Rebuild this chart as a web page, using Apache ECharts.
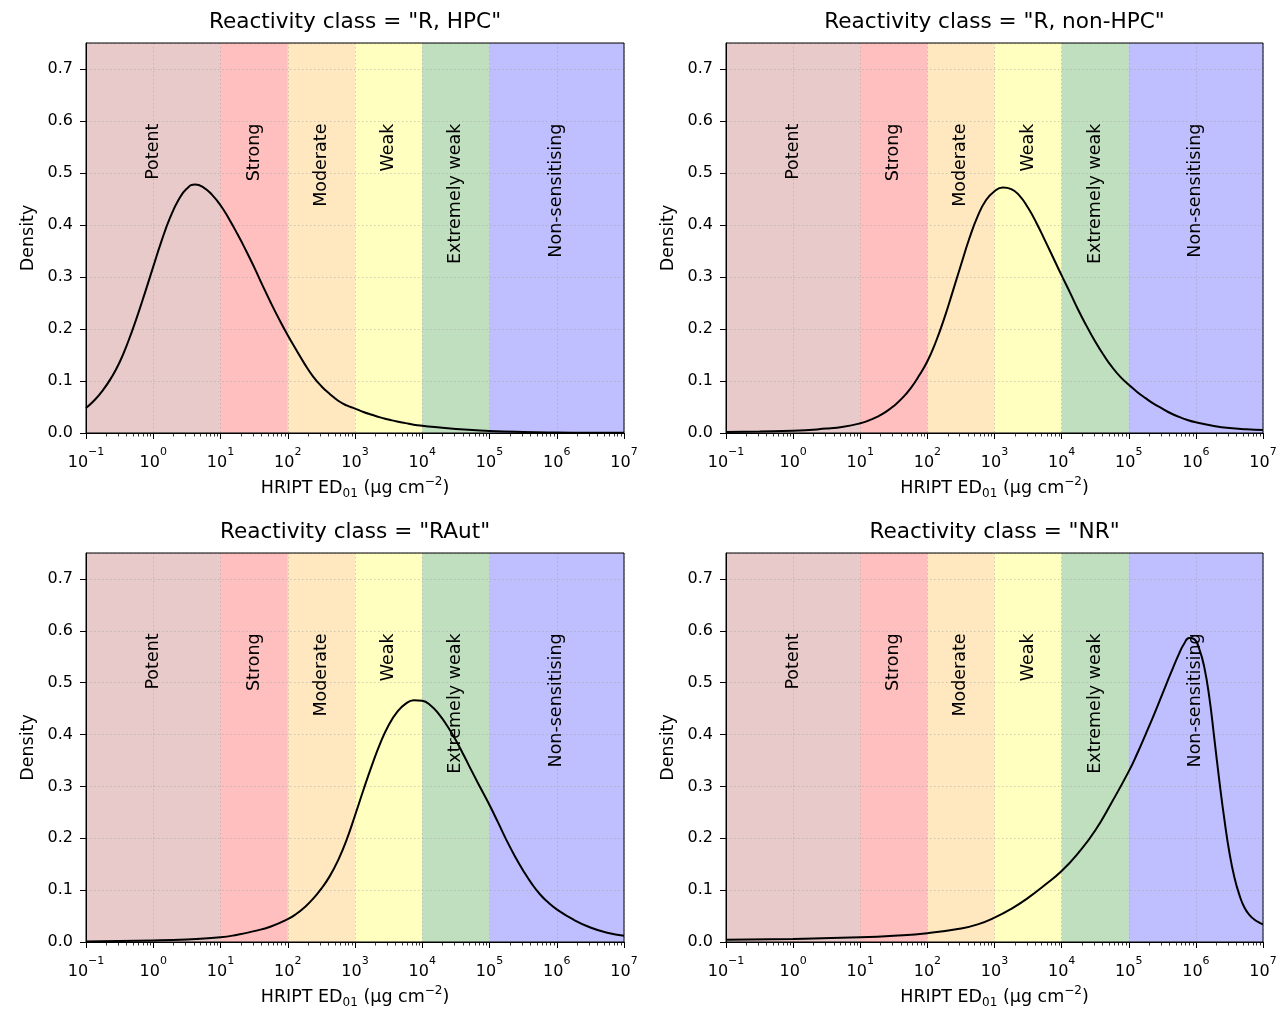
<!DOCTYPE html>
<html>
<head>
<meta charset="utf-8">
<script src="https://cdn.jsdelivr.net/npm/echarts@6/dist/echarts.min.js"></script>
<style>
html,body{margin:0;padding:0;background:#ffffff;}
#chart{width:1281px;height:1010px;}
</style>
</head>
<body>
<div id="chart"></div>
<script>
// ---------------- data ----------------
const panelTitles = ['Reactivity class = "R, HPC"', 'Reactivity class = "R, non-HPC"', 'Reactivity class = "RAut"', 'Reactivity class = "NR"'];
const classNames = ['Potent', 'Strong', 'Moderate', 'Weak', 'Extremely weak', 'Non-sensitising'];
const classLower = [0.1, 10, 100, 1000, 10000, 100000];
const classUpper = [10, 100, 1000, 10000, 100000, 10000000];
const classLabelX = [1, 31.6, 316, 3162, 31623, 1000000];
const classLabelY = [0.595, 0.595, 0.595, 0.595, 0.595, 0.595];
const yTickValues = [0.0, 0.1, 0.2, 0.3, 0.4, 0.5, 0.6, 0.7];
const xMinorTickMantissas = [2, 3, 4, 5, 6, 7, 8, 9];
const xDecades = [0.1, 1, 10, 100, 1000, 10000, 100000, 1000000];

// curve samples: log10(ED01) and density
const logX_RHPC = [-1.0, -0.875, -0.75, -0.625, -0.5, -0.375, -0.25, -0.125, 0.0, 0.125, 0.25, 0.375, 0.5, 0.625, 0.75, 0.875, 1.0, 1.125, 1.25, 1.375, 1.5, 1.625, 1.75, 1.875, 2.0, 2.125, 2.25, 2.375, 2.5, 2.625, 2.75, 2.875, 3.0, 3.125, 3.25, 3.375, 3.5, 3.625, 3.75, 3.875, 4.0, 4.5, 5.0, 5.5, 6.0, 6.5, 7.0];
const dens_RHPC = [0.048, 0.063, 0.082, 0.106, 0.136, 0.175, 0.220, 0.269, 0.320, 0.370, 0.414, 0.448, 0.470, 0.478, 0.472, 0.458, 0.438, 0.412, 0.383, 0.352, 0.319, 0.284, 0.250, 0.218, 0.188, 0.160, 0.133, 0.109, 0.090, 0.075, 0.062, 0.053, 0.047, 0.0405, 0.035, 0.030, 0.026, 0.022, 0.019, 0.016, 0.014, 0.0075, 0.004, 0.002, 0.001, 0.0005, 0.0003];

const logX_RnonHPC = [-1.0, -0.5, 0.0, 0.5, 0.75, 1.0, 1.125, 1.25, 1.375, 1.5, 1.625, 1.75, 1.875, 2.0, 2.125, 2.25, 2.375, 2.5, 2.625, 2.75, 2.875, 3.0, 3.125, 3.25, 3.375, 3.5, 3.625, 3.75, 3.875, 4.0, 4.125, 4.25, 4.375, 4.5, 4.625, 4.75, 4.875, 5.0, 5.125, 5.25, 5.375, 5.5, 5.625, 5.75, 5.875, 6.0, 6.25, 6.5, 6.75, 7.0];
const dens_RnonHPC = [0.002, 0.003, 0.0042, 0.0085, 0.012, 0.0186, 0.024, 0.031, 0.040, 0.052, 0.067, 0.086, 0.110, 0.138, 0.175, 0.220, 0.271, 0.323, 0.374, 0.417, 0.448, 0.465, 0.472, 0.469, 0.456, 0.433, 0.404, 0.371, 0.337, 0.303, 0.270, 0.236, 0.205, 0.176, 0.150, 0.127, 0.108, 0.093, 0.079, 0.067, 0.056, 0.047, 0.038, 0.031, 0.025, 0.0205, 0.014, 0.0095, 0.0072, 0.0058];

const logX_RAut = [-1.0, 0.0, 0.5, 1.0, 1.25, 1.5, 1.75, 2.0, 2.125, 2.25, 2.375, 2.5, 2.625, 2.75, 2.875, 3.0, 3.125, 3.25, 3.375, 3.5, 3.625, 3.75, 3.875, 4.0, 4.125, 4.25, 4.375, 4.5, 4.625, 4.75, 4.875, 5.0, 5.125, 5.25, 5.375, 5.5, 5.625, 5.75, 5.875, 6.0, 6.25, 6.5, 6.75, 7.0];
const dens_RAut = [0.001, 0.003, 0.005, 0.009, 0.014, 0.021, 0.030, 0.044, 0.054, 0.067, 0.083, 0.103, 0.127, 0.158, 0.197, 0.244, 0.293, 0.340, 0.383, 0.418, 0.443, 0.459, 0.466, 0.465, 0.456, 0.439, 0.416, 0.389, 0.358, 0.326, 0.295, 0.264, 0.231, 0.197, 0.166, 0.138, 0.113, 0.092, 0.076, 0.063, 0.043, 0.028, 0.018, 0.012];

const logX_NR = [-1.0, 0.0, 1.0, 1.5, 2.0, 2.5, 2.75, 3.0, 3.25, 3.5, 3.75, 4.0, 4.25, 4.5, 4.75, 5.0, 5.125, 5.25, 5.375, 5.5, 5.625, 5.75, 5.825, 5.9, 5.975, 6.05, 6.125, 6.2, 6.275, 6.35, 6.425, 6.5, 6.575, 6.65, 6.725, 6.8, 6.875, 6.95, 7.0];
const dens_NR = [0.0045, 0.006, 0.009, 0.012, 0.017, 0.026, 0.034, 0.047, 0.064, 0.085, 0.110, 0.137, 0.172, 0.215, 0.270, 0.329, 0.363, 0.400, 0.438, 0.478, 0.518, 0.556, 0.575, 0.586, 0.584, 0.565, 0.530, 0.472, 0.392, 0.310, 0.236, 0.172, 0.124, 0.090, 0.066, 0.052, 0.043, 0.037, 0.034];

const panelLogX = [logX_RHPC, logX_RnonHPC, logX_RAut, logX_NR];
const panelDens = [dens_RHPC, dens_RnonHPC, dens_RAut, dens_NR];

// ---------------- styling ----------------
const FONT = 'DejaVu Sans';
const bandColors = ['rgba(165,42,42,0.25)', 'rgba(255,0,0,0.25)', 'rgba(255,165,0,0.25)', 'rgba(255,255,0,0.25)', 'rgba(0,128,0,0.25)', 'rgba(0,0,255,0.25)'];
const grids = [
  {left: 86, top: 43, width: 538, height: 390},
  {left: 726, top: 43, width: 537, height: 390},
  {left: 86, top: 553, width: 538, height: 390},
  {left: 726, top: 553, width: 537, height: 390}
];
const gridLineStyle = {type: [1.5, 2.5], color: 'rgba(150,150,150,0.45)', width: 1};

const minorTickValues = [];
xDecades.forEach(d => xMinorTickMantissas.forEach(m => minorTickValues.push([m * d, 0])));

function expLabel(v) {
  const e = Math.round(Math.log10(v));
  const s = e < 0 ? '\u2212' + (-e) : String(e);
  return '{b|10}{s|' + s + '}';
}

const option = {
  backgroundColor: '#ffffff',
  animation: false,
  title: [],
  grid: [],
  xAxis: [],
  yAxis: [],
  series: []
};

for (let i = 0; i < 4; i++) {
  const g = grids[i];
  option.title.push({
    text: panelTitles[i],
    left: g.left + g.width / 2,
    top: g.top - 32,
    textAlign: 'center',
    padding: 0,
    textStyle: {fontFamily: FONT, fontSize: 21.6, fontWeight: 'normal', color: '#000'}
  });
  option.grid.push({
    left: g.left, top: g.top, width: g.width, height: g.height,
    show: true, borderColor: '#000', borderWidth: 1, backgroundColor: 'transparent', z: 5,
    containLabel: false
  });
  option.xAxis.push({
    type: 'log', logBase: 10, min: 0.1, max: 1e7, splitNumber: 8, gridIndex: i, z: 1,
    axisLine: {show: true, onZero: false, lineStyle: {color: '#000', width: 1}},
    axisTick: {show: true, length: 6, lineStyle: {color: '#000', width: 1}},
    minorTick: {show: false},
    splitLine: {show: true, lineStyle: gridLineStyle},
    axisLabel: {
      margin: 14, color: '#000', formatter: expLabel,
      rich: {
        b: {fontFamily: FONT, fontSize: 16, color: '#000', lineHeight: 24, verticalAlign: 'bottom'},
        s: {fontFamily: FONT, fontSize: 11, color: '#000', lineHeight: 13, verticalAlign: 'top'}
      }
    },
    name: '{t|HRIPT ED}{sub|01}{t| (\u03bcg cm}{sup|\u22122}{t|)}',
    nameLocation: 'middle', nameGap: 43,
    nameTextStyle: {
      color: '#000',
      rich: {
        t: {fontFamily: FONT, fontSize: 17.5, color: '#000', lineHeight: 24, verticalAlign: 'middle'},
        sub: {fontFamily: FONT, fontSize: 12, color: '#000', lineHeight: 14, verticalAlign: 'bottom'},
        sup: {fontFamily: FONT, fontSize: 12, color: '#000', lineHeight: 13, verticalAlign: 'top'}
      }
    }
  });
  option.yAxis.push({
    type: 'value', min: 0, max: 0.75, interval: 0.1, gridIndex: i, z: 1,
    axisLine: {show: true, onZero: false, lineStyle: {color: '#000', width: 1}},
    axisTick: {show: true, length: 6, lineStyle: {color: '#000', width: 1}},
    splitLine: {show: true, lineStyle: gridLineStyle},
    axisLabel: {
      margin: 13, color: '#000', fontFamily: FONT, fontSize: 16, showMaxLabel: false,
      formatter: function (v) {
        for (const t of yTickValues) { if (Math.abs(v - t) < 1e-6) return t.toFixed(1); }
        return '';
      }
    },
    name: 'Density', nameLocation: 'middle', nameGap: 49,
    nameTextStyle: {fontFamily: FONT, fontSize: 17.5, color: '#000'}
  });

  // colour bands
  option.series.push({
    type: 'custom', xAxisIndex: i, yAxisIndex: i, z: 0, silent: true,
    encode: {x: [0, 1], y: 2},
    data: classNames.map((n, k) => [classLower[k], classUpper[k], 0, k]),
    renderItem: function (params, api) {
      const p0 = api.coord([api.value(0), 0.75]);
      const p1 = api.coord([api.value(1), 0]);
      return {
        type: 'rect',
        shape: {x: p0[0], y: p0[1], width: p1[0] - p0[0], height: p1[1] - p0[1]},
        style: {fill: bandColors[api.value(3)]}
      };
    }
  });

  // minor ticks on the log axis
  option.series.push({
    type: 'custom', xAxisIndex: i, yAxisIndex: i, z: 6, silent: true, clip: false,
    encode: {x: 0, y: 1},
    data: minorTickValues,
    renderItem: function (params, api) {
      const p = api.coord([api.value(0), 0]);
      const x = Math.round(p[0]) + 0.5;
      return {
        type: 'line',
        shape: {x1: x, y1: p[1], x2: x, y2: p[1] + 3.5},
        style: {stroke: '#000', lineWidth: 0.8}
      };
    }
  });

  // density curve
  option.series.push({
    type: 'line', xAxisIndex: i, yAxisIndex: i, z: 3,
    showSymbol: false, smooth: 0.5, silent: true,
    lineStyle: {color: '#000', width: 2},
    data: panelLogX[i].map((e, k) => [Math.pow(10, e), panelDens[i][k]])
  });

  // class labels
  option.series.push({
    type: 'custom', xAxisIndex: i, yAxisIndex: i, z: 4, silent: true,
    encode: {x: 0, y: 1},
    data: classNames.map((n, k) => [classLabelX[k], classLabelY[k], k]),
    renderItem: function (params, api) {
      const p = api.coord([api.value(0), api.value(1)]);
      return {
        type: 'text', x: p[0], y: p[1], rotation: Math.PI / 2,
        style: {
          text: classNames[api.value(2)], fill: '#000',
          font: '17.5px "' + FONT + '"', align: 'right', verticalAlign: 'middle'
        }
      };
    }
  });
}

const chart = echarts.init(document.getElementById('chart'), null, {renderer: 'canvas'});
chart.setOption(option);
</script>
</body>
</html>
